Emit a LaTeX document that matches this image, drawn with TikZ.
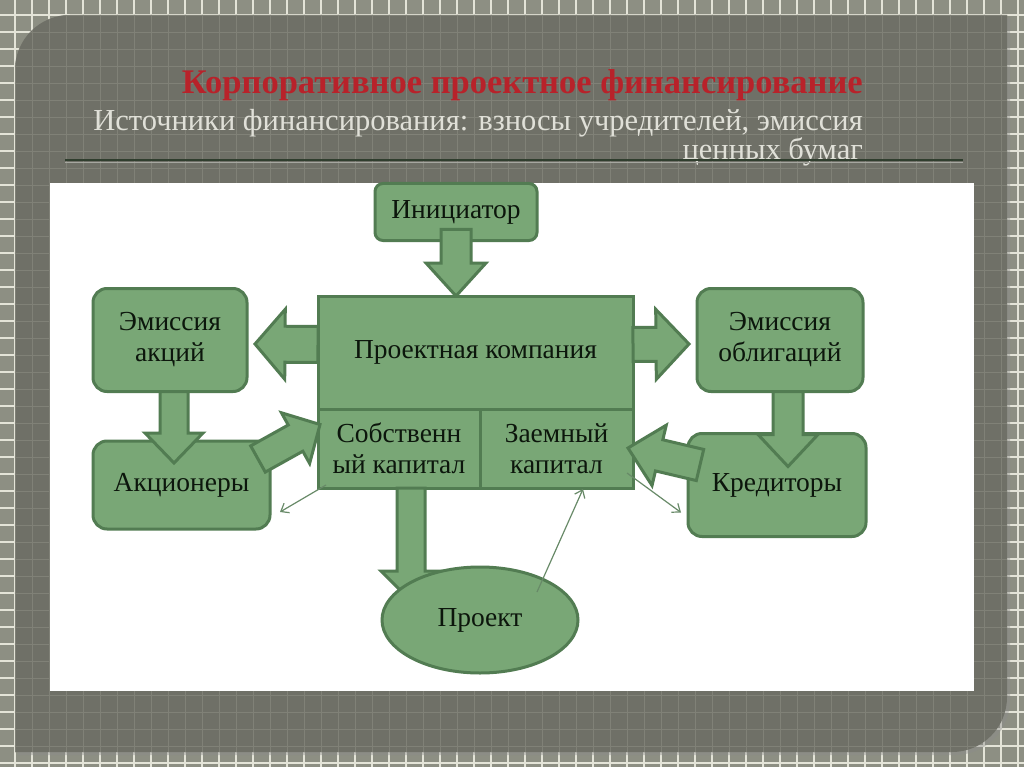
\documentclass[tikz,border=0pt]{standalone}
\usepackage{fontspec}
\setmainfont{Liberation Serif}
\usetikzlibrary{calc,shapes.geometric,arrows.meta}
\definecolor{bgout}{RGB}{141,143,131}
\definecolor{gridw}{RGB}{228,228,216}
\definecolor{panelc}{RGB}{111,112,103}
\definecolor{gridp}{RGB}{128,129,119}
\definecolor{titlered}{RGB}{184,34,42}
\definecolor{subgray}{RGB}{224,224,216}
\definecolor{boxfill}{RGB}{121,167,118}
\definecolor{boxline}{RGB}{82,124,82}
\definecolor{boxtext}{RGB}{12,22,12}
\definecolor{rulec}{RGB}{48,62,46}
\definecolor{pointc}{RGB}{104,138,104}

% block arrow: from, to, shaft half width, head half width, head length
\newcommand\blockarrow[5]{%
  \coordinate (bah) at ($(#2)!#5!(#1)$);
  \draw[barrow] ($(#1)!#3!90:(#2)$) -- ($(bah)!#3!90:(#2)$) -- ($(bah)!#4!90:(#2)$) -- (#2)
    -- ($(bah)!#4!-90:(#2)$) -- ($(bah)!#3!-90:(#2)$) -- ($(#1)!#3!-90:(#2)$) -- cycle;}

\tikzset{
  greenbox/.style={draw=boxline, line width=3pt, fill=boxfill, text=boxtext, inner sep=0pt, outer sep=0pt,
    align=center, font=\fontsize{27.5}{31}\selectfont},
  roundbox/.style={greenbox, rounded corners=14pt},
  barrow/.style={draw=boxline, line width=3pt, fill=boxfill, line join=miter},
  pointer/.style={draw=pointc, line width=1.2pt, -{Straight Barb[length=7pt,width=11pt]}},
}

\begin{document}
\begin{tikzpicture}[x=1pt,y=-1pt]
\useasboundingbox (0,0) rectangle (1024,767);
% backdrop
\fill[bgout] (0,0) rectangle (1024,767);
\foreach \g in {15,32,...,1024} \draw[gridw, line width=1.3pt] (\g,0) -- (\g,767);
\foreach \g in {15,32,...,767} \draw[gridw, line width=1.3pt] (0,\g) -- (1024,\g);
\fill[black!45, opacity=0.4] (18,755) -- (18,73) to[out=90,in=180] (73,18) -- (1010,18) -- (1010,700) to[out=-90,in=0] (955,755) -- cycle;
\begin{scope}
  \clip (15,752) -- (15,70) to[out=90,in=180] (70,15) -- (1007,15) -- (1007,697) to[out=-90,in=0] (952,752) -- cycle;
  \fill[panelc] (0,0) rectangle (1024,767);
  \foreach \g in {15,32,...,1024} \draw[gridp, line width=0.8pt] (\g,0) -- (\g,767);
  \foreach \g in {15,32,...,767} \draw[gridp, line width=0.8pt] (0,\g) -- (1024,\g);
\end{scope}

% heading
\node[font=\bfseries\fontsize{34.5}{40}\selectfont, text=titlered, anchor=base east, inner sep=0pt] (title) at (863,94)
  {Корпоративное проектное финансирование};
\node[font=\fontsize{30.5}{29}\selectfont, text=subgray, align=right, anchor=east, inner sep=0pt] (subtitle) at (863,138)
  {Источники финансирования: взносы учредителей, эмиссия\\ценных бумаг};
\draw[rulec, line width=1.5pt] (65,160) -- (963,160);
\draw[gridp!70!white, line width=0.8pt] (65,162) -- (963,162);

\fill[white] (50,183) rectangle (974,691);

% boxes
\node[roundbox, minimum width=154pt, minimum height=103pt] (ea) at (170,340) {Эмиссия\\акций};
\node[roundbox, minimum width=166pt, minimum height=103pt] (eo) at (780,340) {Эмиссия\\облигаций};
\node[roundbox, minimum width=177pt, minimum height=88pt] (akc) at (181.5,485) {Акционеры};
\node[roundbox, minimum width=178pt, minimum height=103pt] (kred) at (777,485) {Кредиторы};
\node[greenbox, rounded corners=8pt, minimum width=162pt, minimum height=57pt] (ini) at (456,212) {Инициатор};
\node[greenbox, minimum width=315pt, minimum height=113pt] (pk) at (475.5,352.5) {Проектная компания};
\node[greenbox, minimum width=162pt, minimum height=79pt, anchor=north west] (sk) at (pk.south west) {Собственн\\ый капитал};
\node[greenbox, minimum width=153pt, minimum height=79pt, anchor=north east] (zk) at (pk.south east) {Заемный\\капитал};

% block arrows
\coordinate (ini-s) at ($(ini.south)+(0,-11)$);
\coordinate (ini-t) at (ini.south |- pk.north);
\blockarrow{ini-s}{ini-t}{15pt}{30pt}{33pt}
\coordinate (pkl-s) at ($(pk.west)+(0,-8)$);
\coordinate (pkl-t) at ($(ea.east)+(8,4)$);
\blockarrow{pkl-s}{pkl-t}{18pt}{35pt}{30pt}
\coordinate (pkr-s) at ($(pk.east)+(0,-8)$);
\coordinate (pkr-t) at ($(eo.west)+(-8,4)$);
\blockarrow{pkr-s}{pkr-t}{17pt}{35pt}{33pt}
\coordinate (ea-s) at ($(ea.south)+(4,0)$);
\coordinate (ea-t) at ($(akc.north)+(-7.5,22)$);
\blockarrow{ea-s}{ea-t}{14pt}{29pt}{30pt}
\coordinate (eo-s) at ($(eo.south)+(8,0)$);
\coordinate (eo-t) at ($(kred.north)+(11,33)$);
\blockarrow{eo-s}{eo-t}{15pt}{30pt}{32pt}
\coordinate (akc-s) at ($(akc.north east)+(-12,18)$);
\coordinate (akc-t) at ($(sk.west)+(2,-24)$);
\blockarrow{akc-s}{akc-t}{15pt}{29pt}{28pt}
\coordinate (kred-s) at ($(kred.west)+(12,-20)$);
\coordinate (kred-t) at ($(zk.east)+(-5,-0.5)$);
\blockarrow{kred-s}{kred-t}{16pt}{31pt}{32pt}
\coordinate (sk-s) at ($(sk.south)+(12,0)$);
\coordinate (sk-t) at ($(sk.south)+(12,113)$);
\blockarrow{sk-s}{sk-t}{14pt}{30pt}{30pt}

\node[greenbox, ellipse, minimum width=196pt, minimum height=106pt] (proj) at (480,620) {Проект};

% thin pointers
\draw[pointer] ($(sk.south west)+(8,-3)$) -- ($(akc.east)+(10,27)$);
\draw[pointer] ($(zk.south east)+(-6,-15)$) -- ($(kred.west)+(-7,27.5)$);
\draw[pointer] ($(proj.north)+(57,25)$) -- ($(zk.south)+(26.5,1)$);
\end{tikzpicture}
\end{document}
